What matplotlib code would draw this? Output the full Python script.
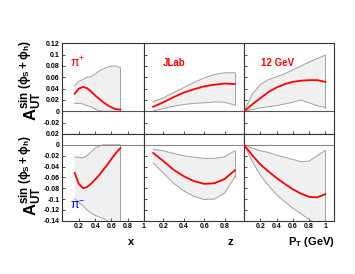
import numpy as np
import matplotlib
matplotlib.use("Agg")
import matplotlib.pyplot as plt

plt.rcParams['font.family'] = ['Liberation Sans', 'DejaVu Sans']
plt.rcParams['mathtext.fontset'] = 'custom'
plt.rcParams['mathtext.rm'] = 'Liberation Sans'
plt.rcParams['mathtext.it'] = 'Liberation Sans:italic'
plt.rcParams['mathtext.bf'] = 'Liberation Sans:bold'

# x dependence (pi+ top, pi- bottom)
x_vals = [0.15, 0.2, 0.25, 0.3, 0.35, 0.4, 0.45, 0.5, 0.55, 0.6, 0.65, 0.71]
x_pip = [0.031, 0.040, 0.043, 0.041, 0.035, 0.028, 0.022, 0.016, 0.011, 0.007, 0.004, 0.003]
x_pip_hi = [0.045, 0.053, 0.056, 0.060, 0.061, 0.066, 0.071, 0.075, 0.078, 0.080, 0.080, 0.077]
x_pip_lo = [0.014, 0.014, 0.013, 0.010, 0.008, 0.004, 0.001, 0.0, 0.0, 0.0, 0.0, 0.0]
x_pim = [-0.052, -0.072, -0.080, -0.078, -0.072, -0.064, -0.056, -0.046, -0.037, -0.026, -0.016, -0.006]
x_pim_hi = [-0.022, -0.023, -0.024, -0.020, -0.013, -0.006, -0.002, 0.0, 0.0, 0.0, 0.0, 0.0]
x_pim_lo = [-0.100, -0.106, -0.112, -0.120, -0.126, -0.130, -0.133, -0.136, -0.140, -0.146, -0.152, -0.158]

# z dependence
z_vals = [0.1, 0.2, 0.3, 0.4, 0.5, 0.6, 0.7, 0.8, 0.9]
z_pip = [0.008, 0.016, 0.025, 0.033, 0.039, 0.044, 0.047, 0.049, 0.048]
z_pip_hi = [0.017, 0.024, 0.033, 0.042, 0.051, 0.059, 0.065, 0.068, 0.068]
z_pip_lo = [0.0005, 0.005, 0.009, 0.012, 0.014, 0.015, 0.0165, 0.016, 0.011]
z_pim = [-0.015, -0.030, -0.046, -0.058, -0.067, -0.072, -0.071, -0.063, -0.047]
z_pim_hi = [-0.008, -0.011, -0.016, -0.020, -0.023, -0.025, -0.025, -0.022, -0.011]
z_pim_lo = [-0.034, -0.052, -0.071, -0.085, -0.095, -0.101, -0.100, -0.089, -0.059]

# PT dependence
pt_vals = [0.0, 0.1, 0.2, 0.3, 0.4, 0.5, 0.6, 0.7, 0.8, 0.9, 1.0]
pt_pip = [0.0, 0.012, 0.023, 0.034, 0.042, 0.048, 0.052, 0.054, 0.055, 0.055, 0.052]
pt_pip_hi = [0.0, 0.030, 0.047, 0.056, 0.061, 0.066, 0.073, 0.080, 0.087, 0.093, 0.099]
pt_pip_lo = [0.0, 0.003, 0.006, 0.008, 0.010, 0.013, 0.016, 0.020, 0.015, 0.010, 0.0066]
pt_pim = [0.0, -0.019, -0.036, -0.049, -0.061, -0.072, -0.082, -0.090, -0.096, -0.097, -0.091]
pt_pim_hi = [0.0, -0.006, -0.011, -0.014, -0.019, -0.023, -0.027, -0.031, -0.030, -0.020, -0.010]
pt_pim_lo = [0.0, -0.030, -0.056, -0.075, -0.092, -0.105, -0.117, -0.127, -0.138, -0.146, -0.152]

W, H = 355, 274
fig = plt.figure(figsize=(W / 100, H / 100), dpi=100)

cols = [(62.5, 144, (0, 1)), (144, 244, (0.01, 0.99)), (244, 333.5, (0, 1.1))]
rows = [(43.3, 134, (-0.04, 0.12)), (134, 220.7, (-0.14, 0.02))]

data = [
    [(x_vals, x_pip, x_pip_lo, x_pip_hi), (z_vals, z_pip, z_pip_lo, z_pip_hi), (pt_vals, pt_pip, pt_pip_lo, pt_pip_hi)],
    [(x_vals, x_pim, x_pim_lo, x_pim_hi), (z_vals, z_pim, z_pim_lo, z_pim_hi), (pt_vals, pt_pim, pt_pim_lo, pt_pim_hi)],
]
xticks = [[0.2, 0.4, 0.6, 0.8, 1.0], [0.2, 0.4, 0.6, 0.8], [0.2, 0.4, 0.6, 0.8, 1.0]]
xlabels = [['0.2', '0.4', '0.6', '0.8', '1'], ['0.2', '0.4', '0.6', '0.8'], ['0.2', '0.4', '0.6', '0.8', '1']]
yticks = [np.arange(-0.02, 0.121, 0.02), np.arange(-0.14, 0.021, 0.02)]

axes = {}
for r, (ytop, ybot, ylim) in enumerate(rows):
    for c, (xl, xr, xlim) in enumerate(cols):
        ax = fig.add_axes([xl / W, (H - ybot) / H, (xr - xl) / W, (ybot - ytop) / H])
        axes[(r, c)] = ax
        xs, mid, lo, hi = data[r][c]
        ax.fill_between(xs, lo, hi, facecolor='#f0f0f0', edgecolor='none', zorder=1)
        ax.plot(xs, hi, color='#a0a0a0', lw=0.7, zorder=2)
        ax.plot(xs, lo, color='#a0a0a0', lw=0.7, zorder=2)
        ax.plot([xs[-1], xs[-1]], [lo[-1], hi[-1]], color='#a0a0a0', lw=0.7, zorder=2)
        ax.plot(xs, mid, color='red', lw=1.3, zorder=3)
        ax.axhline(0, color='#555555' if r == 0 else '#888888', lw=0.8, zorder=2)
        ax.set_xlim(*xlim)
        ax.set_ylim(*ylim)
        ax.set_xticks(xticks[c])
        ax.set_yticks(yticks[r])
        ax.tick_params(direction='in', length=2.5, width=0.6, color='#333333',
                       labelsize=5, pad=2, top=False, right=False)
        if r == 1:
            ax.set_xticklabels(xlabels[c], fontweight='bold')
        else:
            ax.set_xticklabels([])
        if c == 0:
            ax.set_yticklabels(['%g' % round(v, 2) for v in yticks[r]], fontweight='bold')
        else:
            ax.set_yticklabels([])
        for s in ax.spines.values():
            s.set_linewidth(0.8)
            s.set_color('#333333')

axes[(0, 0)].text(0.092, 0.086, 'π$^{+}$', color='red', fontsize=9, va='center')
axes[(0, 1)].text(0.198, 0.086, 'JLab', color='red', fontsize=7, fontweight='bold', va='center')
axes[(0, 2)].text(0.21, 0.086, '12 GeV', color='red', fontsize=7, fontweight='bold', va='center')
axes[(1, 0)].text(0.092, -0.112, 'π$^{-}$', color='blue', fontsize=9, va='center')

ylab = r'$\mathbf{A}_{\mathbf{UT}}^{\mathbf{sin\ (\phi_S+\phi_h)}}$'
fig.text(31 / W, 1 - 81 / H, ylab, rotation=90, fontsize=12, ha='center', va='center')
fig.text(31 / W, 1 - 176 / H, ylab, rotation=90, fontsize=12, ha='center', va='center')

fig.text(131 / W, 1 - 242 / H, 'x', fontsize=8, fontweight='bold', ha='center', va='center')
fig.text(230 / W, 1 - 242 / H, 'z', fontsize=8, fontweight='bold', ha='center', va='center')
fig.text(335 / W, 1 - 242 / H, r'$\mathbf{P_T}$ (GeV)', fontsize=8, fontweight='bold', ha='right', va='center')

fig.savefig('out.png', dpi=100)
